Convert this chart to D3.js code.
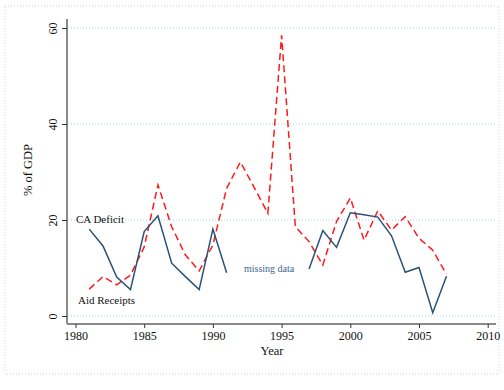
<!DOCTYPE html>
<html><head><meta charset="utf-8">
<script src="https://cdn.jsdelivr.net/npm/d3@7"></script>
<style>body{margin:0;background:#fff}svg{display:block}</style>
</head><body>
<script>
const yearsA = [1981,1982,1983,1984,1985,1986,1987,1988,1989,1990,1991];
const caA    = [18.1,14.6,8.1,5.5,17.6,20.9,11.0,8.2,5.5,18.1,9.0];
const yearsB = [1997,1998,1999,2000,2001,2002,2003,2004,2005,2006,2007];
const caB    = [9.8,17.8,14.3,21.5,21.1,20.6,16.7,9.1,10.1,0.7,8.3];
const aidYears = [1981,1982,1983,1984,1985,1986,1987,1988,1989,1990,1991,1992,1993,1994,1995,1996,1997,1998,1999,2000,2001,2002,2003,2004,2005,2006,2007];
const aid = [5.6,8.2,6.5,8.5,14.4,27.3,18.6,12.7,9.4,14.8,26.6,32.1,26.8,21.4,58.5,18.6,15.5,10.6,19.7,24.6,15.8,21.9,17.9,20.7,16.2,13.7,8.7];
const xTicks = [1980,1985,1990,1995,2000,2005,2010];
const yTicks = [0,20,40,60];

const W=504,H=390;
const svg=d3.select("body").append("svg").attr("width",W).attr("height",H);
const x=d3.scaleLinear().domain([1980,2010]).range([75.5,487.7]);
const y=d3.scaleLinear().domain([0,60]).range([316,28]);

// outer dotted frame
svg.append("rect").attr("x",5).attr("y",6).attr("width",494).attr("height",368)
  .attr("fill","none").attr("stroke","#c8d4dc").attr("stroke-dasharray","1,2");

// grid
svg.append("g").selectAll("line").data(yTicks).join("line")
  .attr("x1",68).attr("x2",495).attr("y1",d=>y(d)).attr("y2",d=>y(d))
  .attr("stroke","#9ad4df").attr("stroke-width",1).attr("stroke-dasharray","1,2");

// axes
const axCol="#8a8a8a";
const yAx=svg.append("g").attr("transform","translate(67,0)")
  .call(d3.axisLeft(y).tickValues(yTicks).tickSize(5).tickFormat(d3.format("d")));
yAx.select(".domain").attr("d","M0,19V324").attr("stroke",axCol).attr("stroke-width",2);
yAx.selectAll(".tick line").attr("stroke","#333");
yAx.selectAll(".tick text").attr("transform","rotate(-90)").attr("x",0).attr("y",-10)
  .attr("text-anchor","middle").attr("dy","0")
  .attr("font-family","Liberation Serif").attr("font-size",12).attr("fill","#111");

const xAx=svg.append("g").attr("transform","translate(0,324)")
  .call(d3.axisBottom(x).tickValues(xTicks).tickSize(4).tickFormat(d3.format("d")));
xAx.select(".domain").attr("d","M67,0H496").attr("stroke",axCol).attr("stroke-width",2);
xAx.selectAll(".tick line").attr("stroke","#333");
xAx.selectAll(".tick text").attr("y",7).attr("dy","0.71em")
  .attr("font-family","Liberation Serif").attr("font-size",12).attr("fill","#111");

// lines
const line=d3.line().x(d=>x(d[0])).y(d=>y(d[1]));
svg.append("path").datum(aidYears.map((yr,i)=>[yr,aid[i]]))
  .attr("d",line).attr("fill","none").attr("stroke","#ff1a1a").attr("stroke-width",1.5)
  .attr("stroke-dasharray","7,4");
const caCol="#2a5275";
[[yearsA,caA],[yearsB,caB]].forEach(([ys,vs])=>{
  svg.append("path").datum(ys.map((yr,i)=>[yr,vs[i]]))
    .attr("d",line).attr("fill","none").attr("stroke",caCol).attr("stroke-width",1.5);
});

// texts
const txt=(s,xx,yy,opt={})=>svg.append("text").attr("x",xx).attr("y",yy).text(s)
  .attr("font-family","Liberation Serif").attr("font-size",opt.size||11)
  .attr("fill",opt.fill||"#111").attr("text-anchor",opt.anchor||"start");
txt("CA Deficit",76,223,{size:11});
txt("Aid Receipts",78,304,{size:11});
txt("missing data",244,272,{size:10,fill:"#3d6690"});
txt("Year",272,355,{size:12.5,anchor:"middle"});
svg.append("text").attr("transform","translate(32,170) rotate(-90)")
  .attr("text-anchor","middle").attr("font-family","Liberation Serif").attr("font-size",12.5)
  .attr("fill","#111").text("% of GDP");
</script>
</body></html>
